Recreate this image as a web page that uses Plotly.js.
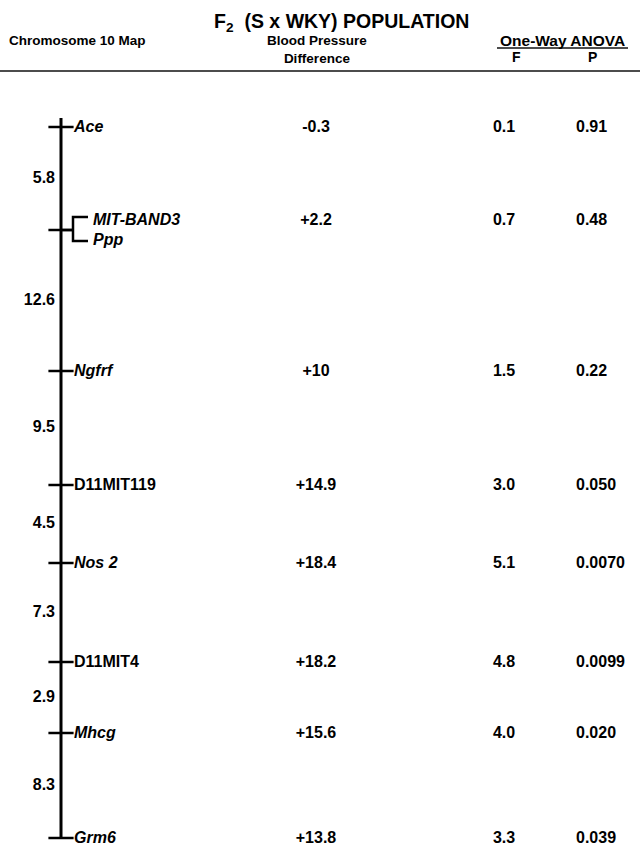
<!DOCTYPE html>
<html><head><meta charset="utf-8">
<script src="https://cdn.plot.ly/plotly-3.0.1.min.js"></script>
<style>html,body{margin:0;padding:0;background:#fff}</style>
</head><body><div id="chart" style="width:640px;height:846px"></div>
<script>
// ---- data ----
const locusLabels = [["Ace"], ["MIT-BAND3", "Ppp"], ["Ngfrf"], ["D11MIT119"], ["Nos 2"], ["D11MIT4"], ["Mhcg"], ["Grm6"]];
const italicName = [true, true, true, false, true, false, true, true];
const mapPos = [127, 230, 371, 485, 563, 662, 733, 838];   // schematic (not-to-scale) map position, top to bottom
const intervalCM = [5.8, 12.6, 9.5, 4.5, 7.3, 2.9, 8.3];
const bpDiff = [-0.3, 2.2, 10, 14.9, 18.4, 18.2, 15.6, 13.8];
const anovaF = [0.1, 0.7, 1.5, 3.0, 5.1, 4.8, 4.0, 3.3];
const anovaP = [0.91, 0.48, 0.22, 0.050, 0.0070, 0.0099, 0.020, 0.039];

// ---- layout constants ----
const FONT = "Liberation Sans, Arial, Helvetica, sans-serif";
const AXIS_X = 61, TICK_LEN = 18, LABEL_X = 74, BRACKET_X = 73, BRACKET_ARM = 15;
const DIST_X = 55, BP_X = 316, F_X = 504, P_X = 576;
const ROW_GAP = 20, TXT_DY = 2;

function fmtBP(v) { return (v > 0 ? "+" : "") + String(v); }
function wrap(t, it) { return it ? "<b><i>" + t + "</i></b>" : "<b>" + t + "</b>"; }

// label positions
const lblX = [], lblY = [], lblT = [], rowY = [];
const brX = [], brY = [];
locusLabels.forEach((labs, i) => {
  const n = labs.length;
  const ys = labs.map((_, k) => mapPos[i] + (k - (n - 1) / 2) * ROW_GAP - 1);
  rowY.push(ys[0] + TXT_DY);
  labs.forEach((t, k) => {
    lblX.push(n > 1 ? BRACKET_X + BRACKET_ARM + 5 : LABEL_X);
    lblY.push(ys[k] + TXT_DY);
    lblT.push(wrap(t, italicName[i]));
  });
  if (n > 1) {
    brX.push(AXIS_X, BRACKET_X, null,
      BRACKET_X + BRACKET_ARM, BRACKET_X, BRACKET_X, BRACKET_X + BRACKET_ARM, null);
    brY.push(mapPos[i], mapPos[i], null,
      ys[0] - 2, ys[0] - 2, ys[n - 1] + 2, ys[n - 1] + 2, null);
  }
});
const distY = intervalCM.map((_, i) => (mapPos[i] + mapPos[i + 1]) / 2 + TXT_DY - 2);

const black = "#000";
const txtFont = { family: FONT, size: 16, color: black };

const traces = [
  { type: "scatter", mode: "lines", x: [AXIS_X, AXIS_X], y: [mapPos[0] - 9, mapPos[mapPos.length - 1]],
    line: { color: black, width: 3 }, hoverinfo: "skip" },
  { type: "scatter", mode: "markers", x: mapPos.map(() => AXIS_X), y: mapPos,
    marker: { symbol: "line-ew", size: TICK_LEN, line: { width: 2.5, color: black } }, hoverinfo: "skip" },
  { type: "scatter", mode: "lines", x: brX, y: brY, line: { color: black, width: 2.5 }, hoverinfo: "skip" },
  { type: "scatter", mode: "text", x: lblX, y: lblY, text: lblT, textposition: "middle right",
    textfont: txtFont, hoverinfo: "skip" },
  { type: "scatter", mode: "text", x: distY.map(() => DIST_X), y: distY,
    text: intervalCM.map(v => "<b>" + v.toFixed(1) + "</b>"), textposition: "middle left", textfont: txtFont, hoverinfo: "skip" },
  { type: "scatter", mode: "text", x: rowY.map(() => BP_X), y: rowY,
    text: bpDiff.map(v => "<b>" + fmtBP(v) + "</b>"), textposition: "middle center", textfont: txtFont, hoverinfo: "skip" },
  { type: "scatter", mode: "text", x: rowY.map(() => F_X), y: rowY,
    text: anovaF.map(v => "<b>" + v.toFixed(1) + "</b>"), textposition: "middle center", textfont: txtFont, hoverinfo: "skip" },
  { type: "scatter", mode: "text", x: rowY.map(() => P_X), y: rowY,
    text: anovaP.map(v => "<b>" + v.toPrecision(2) + "</b>"), textposition: "middle right", textfont: txtFont, hoverinfo: "skip" }
];

const f = (size) => ({ family: FONT, size, color: black });
const ann = (text, x, y, xanchor, font) => ({ text: "<b>" + text + "</b>", x, y, xref: "x", yref: "y",
  xanchor, yanchor: "middle", showarrow: false, font });
const layout = {
  width: 640, height: 846, margin: { l: 0, r: 0, t: 0, b: 0 },
  paper_bgcolor: "#fff", plot_bgcolor: "#fff", showlegend: false,
  title: { text: "<b>F<sub>2</sub>  (S x WKY) POPULATION</b>", font: f(19.5),
    x: 0.534, xanchor: "center", y: 1 - 21 / 846, yanchor: "middle", yref: "container" },
  xaxis: { range: [0, 640], visible: false, fixedrange: true },
  yaxis: { range: [846, 0], visible: false, fixedrange: true },
  annotations: [
    ann("Chromosome 10 Map", 7, 40, "left", f(13.5)),
    ann("Blood Pressure<br>Difference", 317, 49, "center", f(13.5)),
    ann("One-Way ANOVA", 562, 40, "center", f(15.5)),
    ann("F", F_X + 12, 57, "center", f(14)),
    ann("P", P_X + 16, 57, "center", f(14))
  ],
  shapes: [
    { type: "line", xref: "x", yref: "y", x0: 0, x1: 640, y0: 71, y1: 71, line: { color: "#111", width: 1.5 } },
    { type: "line", xref: "x", yref: "y", x0: 497, x1: 628, y0: 48, y1: 48, line: { color: "#111", width: 1.5 } }
  ]
};

Plotly.newPlot("chart", traces, layout, { displayModeBar: false, staticPlot: true });
</script></body></html>
